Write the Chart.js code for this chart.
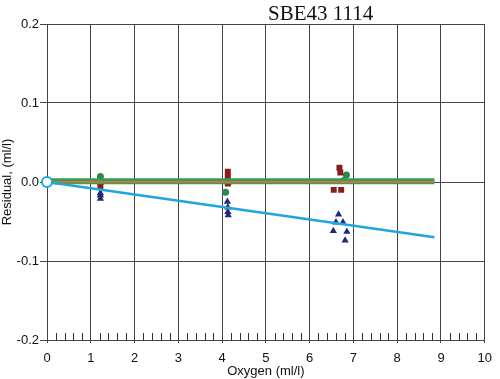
<!DOCTYPE html>
<html><head><meta charset="utf-8">
<script src="https://cdn.jsdelivr.net/npm/chart.js@4/dist/chart.umd.min.js"></script>
<style>html,body{margin:0;padding:0;background:#fff}#wrap{width:500px;height:379px}</style>
</head><body><div id="wrap"><canvas id="c" width="500" height="379"></canvas></div>
<script>
const chartTitle = "SBE43 1114";
const xTickValues = [0,1,2,3,4,5,6,7,8,9,10];
const yTickValues = [-0.2,-0.1,0,0.1,0.2];
const fitX = [0, 8.85];
const cyanFit = [0, -0.070];
const greenFit = [0.001, 0.001];
const brownFit = [0.0, 0.0];
const circlesX = [1.22, 4.08, 6.84, 6.78, 4.15, 1.22];
const circlesY = [0.007, -0.013, 0.009, 0.002, 0.0, 0.0];
const squaresX = [1.22, 1.22, 4.13, 4.13, 4.13, 6.68, 6.70, 6.55, 6.72];
const squaresY = [-0.005, 0.0, 0.013, 0.007, -0.002, 0.018, 0.012, -0.010, -0.010];
const trianglesX = [1.22, 1.22, 1.22, 4.12, 4.13, 4.13, 4.14, 6.66, 6.60, 6.76, 6.54, 6.85, 6.81];
const trianglesY = [-0.014, -0.017, -0.021, -0.025, -0.032, -0.038, -0.042, -0.041, -0.051, -0.051, -0.062, -0.063, -0.074];

const pts = (xs, ys) => xs.map((x, i) => ({x: x, y: ys[i]}));

const titlePlugin = {
  id: 'titleText',
  afterDraw(chart) {
    const ctx = chart.ctx;
    ctx.save();
    ctx.font = '21px "Liberation Serif", "Times New Roman", serif';
    ctx.fillStyle = '#111';
    ctx.textBaseline = 'alphabetic';
    ctx.textAlign = 'left';
    ctx.fillText(chartTitle, 268, 20);
    ctx.restore();
  }
};
const minorTicks = {
  id: 'minorTicks',
  afterDatasetsDraw(chart) {
    const xs = chart.scales.x, ys = chart.scales.y;
    const ctx = chart.ctx;
    const yb = ys.getPixelForValue(-0.2);
    ctx.save();
    ctx.strokeStyle = '#333';
    ctx.lineWidth = 1;
    ctx.beginPath();
    for (let i = 0; i < 10; i++) {
      for (let k = 1; k < 5; k++) {
        const px = Math.round(xs.getPixelForValue(i + k * 0.2)) + 0.5;
        ctx.moveTo(px, yb);
        ctx.lineTo(px, yb - 7);
      }
    }
    ctx.stroke();
    ctx.restore();
  }
};

new Chart(document.getElementById('c'), {
  type: 'scatter',
  data: {
    datasets: [
      {data: pts(fitX, greenFit), showLine: true, borderColor: '#2f9e55', borderWidth: 6, pointRadius: 0, order: 2},
      {data: pts(fitX, brownFit), showLine: true, borderColor: '#b87a45', borderWidth: 2.5, pointRadius: 0, order: 1},
      {data: pts(fitX, cyanFit), showLine: true, borderColor: '#1ea6e0', borderWidth: 2.5, clip: false,
        pointRadius: [5, 0], pointBorderWidth: 2, pointBorderColor: '#1ea6e0', pointBackgroundColor: '#ffffff', order: 0},
      {data: pts(circlesX, circlesY), pointStyle: 'circle', pointRadius: 3.5, backgroundColor: '#2a8a4a', borderColor: '#2a8a4a', borderWidth: 0, order: 5},
      {data: pts(squaresX, squaresY), pointStyle: 'rect', pointRadius: 4.2, backgroundColor: '#8a1c1c', borderColor: '#8a1c1c', borderWidth: 0, order: 4},
      {data: pts(trianglesX, trianglesY), pointStyle: 'triangle', pointRadius: 4.2, backgroundColor: '#1f2a7a', borderColor: '#1f2a7a', borderWidth: 0, order: 3}
    ]
  },
  options: {
    responsive: false,
    animation: false,
    events: [],
    layout: {padding: {top: 24, right: 13, left: 0, bottom: 0}},
    plugins: {legend: {display: false}, tooltip: {enabled: false}, title: {display: false}},
    scales: {
      x: {
        type: 'linear', min: 0, max: 10,
        afterBuildTicks(s) { s.ticks = xTickValues.map(v => ({value: v})); },
        afterFit(s) { s.height = 39; },
        grid: {color: '#444', lineWidth: 1, tickLength: 3, drawTicks: true},
        border: {display: true, color: '#444', width: 1},
        ticks: {color: '#111', font: {family: '"Liberation Sans", Arial, sans-serif', size: 13}, padding: 8, maxRotation: 0,
          callback: v => String(v)},
        title: {display: true, text: 'Oxygen (ml/l)', color: '#111', font: {family: '"Liberation Sans", Arial, sans-serif', size: 13}, padding: 0}
      },
      y: {
        type: 'linear', min: -0.2, max: 0.2,
        afterBuildTicks(s) { s.ticks = yTickValues.map(v => ({value: v})); },
        afterFit(s) { s.width = 47; },
        grid: {color: '#444', lineWidth: 1, tickLength: 7, drawTicks: true},
        border: {display: true, color: '#444', width: 1},
        ticks: {color: '#111', font: {family: '"Liberation Sans", Arial, sans-serif', size: 13}, padding: 1,
          callback: v => Number(v).toFixed(1)},
        title: {display: true, text: 'Residual, (ml/l)', color: '#111', font: {family: '"Liberation Sans", Arial, sans-serif', size: 13}, padding: 0}
      }
    }
  },
  plugins: [titlePlugin, minorTicks]
});
</script>
</body></html>
